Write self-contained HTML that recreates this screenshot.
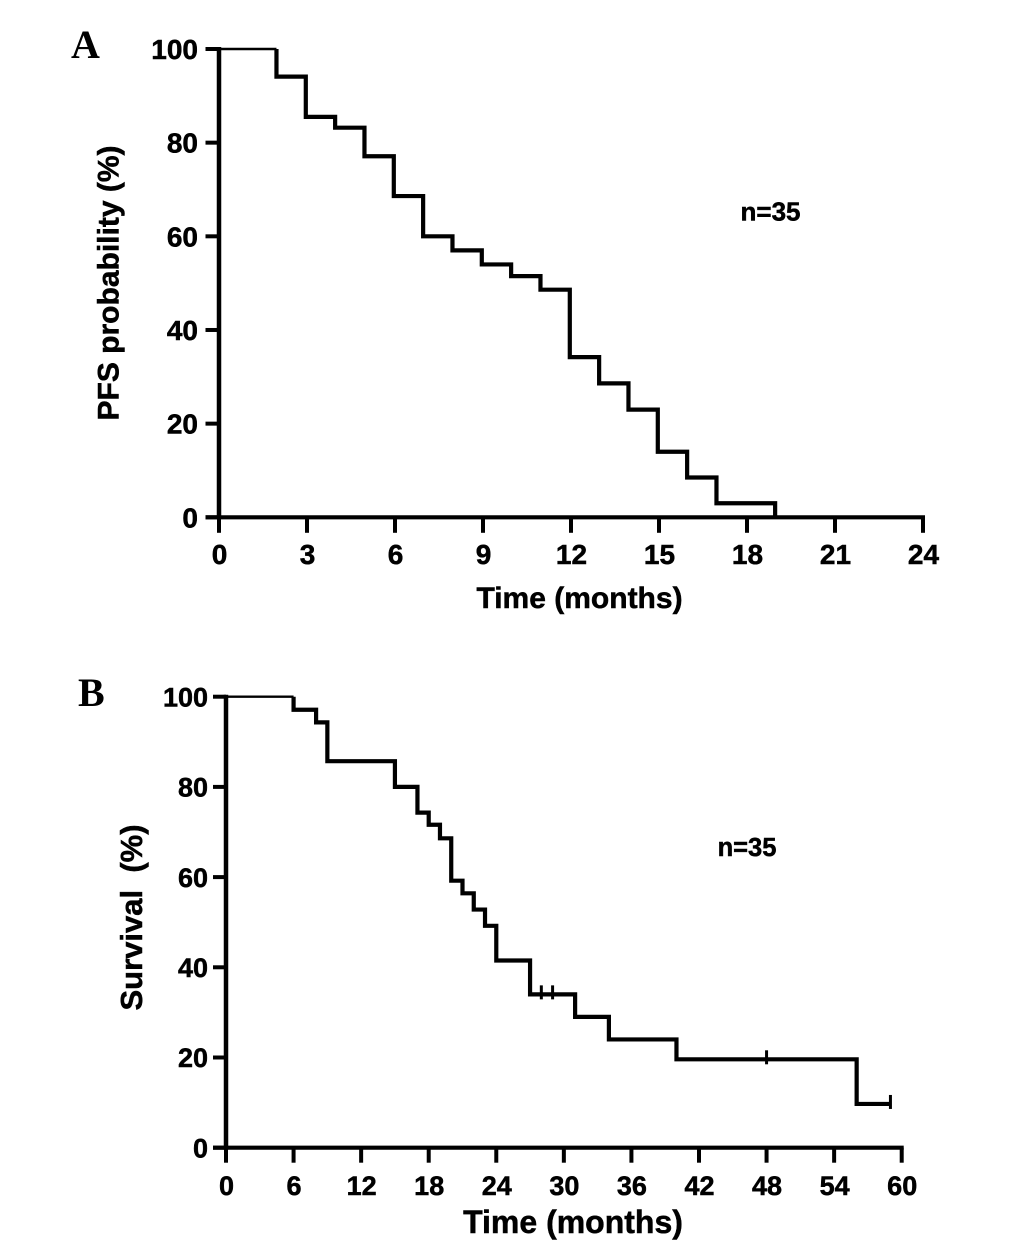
<!DOCTYPE html>
<html lang="en">
<head>
<meta charset="utf-8">
<title>PFS and survival curves</title>
<style>
html,body{margin:0;padding:0;background:#fff;}
svg{display:block;}
text{font-family:"Liberation Sans",Arial,sans-serif;font-weight:bold;fill:#000;stroke:#000;stroke-width:0.5px;}
text.panel{font-family:"Liberation Serif",serif;stroke:none;}
</style>
</head>
<body>
<svg id="fig" xmlns="http://www.w3.org/2000/svg" width="1035" height="1252" viewBox="0 0 1035 1252">
<rect x="0" y="0" width="1035" height="1252" fill="#fff"/>
<text class="panel" x="71" y="58" font-size="40">A</text>
<text class="panel" x="78" y="706" font-size="40">B</text>
<g id="chartA"></g>
<g id="chartB"></g>
<text x="579.5" y="608" font-size="30" text-anchor="middle">Time (months)</text>
<text transform="translate(118.5,283) rotate(-90)" font-size="30" text-anchor="middle">PFS probability (%)</text>
<text x="770.5" y="220.5" font-size="26" text-anchor="middle">n=35</text>
<text x="573" y="1233" font-size="32" text-anchor="middle">Time (months)</text>
<text transform="translate(142,917.5) rotate(-90)" font-size="31" text-anchor="middle" xml:space="preserve">Survival  (%)</text>
<text x="747" y="856" font-size="25.5" text-anchor="middle">n=35</text>
</svg>
<script>
// Panel A data: progression-free survival
const pfsXTicks = [0, 3, 6, 9, 12, 15, 18, 21, 24];
const pfsYTicks = [0, 20, 40, 60, 80, 100];
const pfsTimes = [0, 2, 3, 4, 5, 6, 7, 8, 9, 10, 11, 12, 13, 14, 15, 16, 17, 19];
const pfsValues = [100, 94.1, 85.5, 83.2, 77.1, 68.6, 60, 57, 54, 51.5, 48.6, 34.2, 28.6, 23, 14, 8.5, 3, 0];
const pfsCensorTimes = [];

// Panel B data: overall survival
const osXTicks = [0, 6, 12, 18, 24, 30, 36, 42, 48, 54, 60];
const osYTicks = [0, 20, 40, 60, 80, 100];
const osTimes = [0, 6, 8, 9, 15, 17, 18, 19, 20, 21, 22, 23, 24, 27, 31, 34, 40, 56];
const osValues = [100, 97.1, 94.3, 85.7, 80, 74.3, 71.6, 68.6, 59.2, 56.4, 52.8, 49.2, 41.5, 34, 29, 24, 19.6, 9.7];
const osEndTime = 59;
const osCensorTimes = [28, 29, 48, 59];

const SVGNS = 'http://www.w3.org/2000/svg';

function scale(d0, d1, r0, r1) {
  return function (v) { return r0 + (v - d0) * (r1 - r0) / (d1 - d0); };
}

function make(parent, tag, attrs) {
  const el = document.createElementNS(SVGNS, tag);
  Object.keys(attrs).forEach(function (k) { el.setAttribute(k, attrs[k]); });
  parent.appendChild(el);
  return el;
}

function drawChart(cfg) {
  const g = document.getElementById(cfg.id);
  const x = scale(cfg.xDomain[0], cfg.xDomain[1], cfg.xRange[0], cfg.xRange[1]);
  const y = scale(0, 100, cfg.yRange[0], cfg.yRange[1]);
  const cx = function (t) { return x(t) + cfg.curveDx; };

  // y axis line
  const yAxis = make(g, 'line', {x1: x(0), x2: x(0), y1: y(100) - 2, y2: y(0) + 2, stroke: '#000', 'stroke-width': cfg.axisW});
  
  

  // x axis line
  const xAxis = make(g, 'line', {x1: x(0) - cfg.tickLen, x2: x(cfg.xDomain[1]) + 2, y1: y(0), y2: y(0), stroke: '#000', 'stroke-width': cfg.axisW - 0.3});
  
  

  cfg.yTicks.forEach(function (t) {
    const tick = make(g, 'line', {x1: x(0) - cfg.tickLen, x2: x(0), y1: y(t), y2: y(t), stroke: '#000', 'stroke-width': 4});
    
    
    const label = make(g, 'text', {x: cfg.yLabelX, y: y(t) + cfg.tickFont * 0.36, 'font-size': cfg.tickFont, 'text-anchor': 'end'});
    label.textContent = String(t);
    
    
  });

  cfg.xTicks.forEach(function (t) {
    const tick = make(g, 'line', {x1: x(t), x2: x(t), y1: y(0), y2: y(0) + cfg.tickLen + 2, stroke: '#000', 'stroke-width': 4});
    
    
    const label = make(g, 'text', {x: x(t) + 0.5, y: cfg.xLabelY, 'font-size': cfg.tickFont, 'text-anchor': 'middle'});
    label.textContent = String(t);
    
    
  });

  // first plateau is drawn thinner, as in the source figure
  const plateau = make(g, 'line', {x1: x(cfg.times[0]), x2: cx(cfg.times[1]), y1: y(cfg.values[0]), y2: y(cfg.values[0]), stroke: '#000', 'stroke-width': 2.4});
  
  

  let d = 'M' + cx(cfg.times[1]) + ' ' + y(cfg.values[0]);
  for (let i = 1; i < cfg.times.length; i++) {
    d += 'V' + y(cfg.values[i]);
    const next = i + 1 < cfg.times.length ? cfg.times[i + 1] : cfg.endTime;
    if (next !== undefined) d += 'H' + cx(next);
  }
  const curve = make(g, 'path', {d: d, fill: 'none', stroke: '#000', 'stroke-width': cfg.lineW, 'stroke-linejoin': 'miter'});
  
  

  cfg.censors.forEach(function (t) {
    let level = cfg.values[0];
    for (let i = 0; i < cfg.times.length; i++) {
      if (cfg.times[i] <= t) level = cfg.values[i];
    }
    const mark = make(g, 'line', {x1: cx(t), x2: cx(t), y1: y(level) - 9, y2: y(level) + 5, stroke: '#000', 'stroke-width': 3});
    
    
  });
}

drawChart({
  id: 'chartA',
  xDomain: [0, 24],
  xRange: [219, 923],
  yRange: [517.3, 49],
  xTicks: pfsXTicks,
  yTicks: pfsYTicks,
  times: pfsTimes,
  values: pfsValues,
  censors: pfsCensorTimes,
  curveDx: -1.2,
  axisW: 4.5,
  lineW: 4.2,
  tickLen: 13.5,
  tickFont: 28,
  yLabelX: 198,
  xLabelY: 564
});

drawChart({
  id: 'chartB',
  xDomain: [0, 60],
  xRange: [226, 901.7],
  yRange: [1147.7, 696.7],
  xTicks: osXTicks,
  yTicks: osYTicks,
  times: osTimes,
  values: osValues,
  endTime: osEndTime,
  censors: osCensorTimes,
  curveDx: 0,
  axisW: 4.5,
  lineW: 4.2,
  tickLen: 13,
  tickFont: 27,
  yLabelX: 208,
  xLabelY: 1195
});
</script>
</body>
</html>
